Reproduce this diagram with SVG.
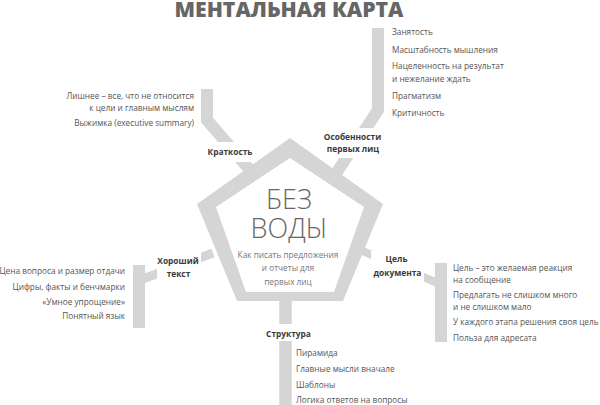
<svg xmlns="http://www.w3.org/2000/svg" width="600" height="405" viewBox="0 0 600 405">
<style>
.bar{fill:none;stroke:#d5d5d5;stroke-linejoin:miter;stroke-linecap:butt}
.item{font-family:"Open Sans","DejaVu Sans",sans-serif;font-size:9.5px;fill:#555}
.sub{font-family:"Open Sans","DejaVu Sans",sans-serif;font-size:9.5px;fill:#777;text-anchor:middle}
.lbl{font-family:"Open Sans","DejaVu Sans",sans-serif;font-size:9.5px;font-weight:700;fill:#3a3a3a;text-anchor:middle}
.ko{fill:#fff}
.r{text-anchor:end}
</style>
<rect width="600" height="405" fill="#fff"/>
<text x="289" y="16.5" text-anchor="middle" font-family="'Open Sans','DejaVu Sans',sans-serif" font-weight="800" font-size="21.2" fill="#666">МЕНТАЛЬНАЯ КАРТА</text>
<g id="connectors">
<polyline class="bar" stroke-width="12" points="207,89 207,120 256,177"/>
<polyline class="bar" stroke-width="12" points="378,28 378,110 333,178"/>
<line class="bar" stroke-width="9" x1="140" y1="280" x2="213" y2="253"/>
<rect x="133" y="265" width="12" height="63" fill="#d5d5d5"/>
<line class="bar" stroke-width="8" x1="360" y1="250" x2="440" y2="284"/>
<rect x="435" y="263" width="12" height="79" fill="#d5d5d5"/>
<line class="bar" stroke-width="12.5" x1="285.5" y1="295" x2="285.5" y2="405"/>
</g>
<g id="center">
<path fill="#d5d5d5" fill-rule="evenodd" d="M290,138 L383,204 L343,301 L237,301 L197,204 Z M290,158 L364,207 L334,292 L246,292 L216,207 Z"/>
<text x="289" y="209" text-anchor="middle" font-family="'Open Sans','DejaVu Sans',sans-serif" font-weight="300" font-size="27" fill="#666">БЕЗ</text>
<text x="289" y="238" text-anchor="middle" font-family="'Open Sans','DejaVu Sans',sans-serif" font-weight="300" font-size="27" fill="#666">ВОДЫ</text>
<g transform="translate(288 0) scale(0.87 1)">
<text class="sub" x="0" y="258">Как писать предложения</text>
<text class="sub" x="0" y="271.5">и отчеты для</text>
<text class="sub" x="0" y="285">первых лиц</text>
</g>
</g>
<g id="node-kratkost">
<rect class="ko" x="204" y="142" width="52" height="20"/>
<g transform="translate(230 0) scale(0.88 1)"><text class="lbl" x="0" y="155">Краткость</text></g>
<g transform="translate(194 0) scale(0.87 1)">
<text class="item r" x="0" y="99.5">Лишнее – все, что не относится</text>
<text class="item r" x="0" y="111.5">к цели и главным мыслям</text>
<text class="item r" x="0" y="126.5">Выжимка (executive summary)</text>
</g>
</g>
<g id="node-osobennosti">
<rect class="ko" x="320" y="128" width="66" height="30"/>
<g transform="translate(352.5 0) scale(0.88 1)">
<text class="lbl" x="0" y="140">Особенности</text>
<text class="lbl" x="0.5" y="152">первых лиц</text>
</g>
<g transform="translate(392 0) scale(0.87 1)">
<text class="item" x="0" y="35.5">Занятость</text>
<text class="item" x="0" y="53">Масштабность мышления</text>
<text class="item" x="0" y="69.5">Нацеленность на результат</text>
<text class="item" x="0" y="82">и нежелание ждать</text>
<text class="item" x="0" y="99.5">Прагматизм</text>
<text class="item" x="0" y="116.5">Критичность</text>
</g>
</g>
<g id="node-horoshiy">
<rect class="ko" x="157" y="252" width="44" height="29"/>
<g transform="translate(178 0) scale(0.88 1)">
<text class="lbl" x="0" y="264">Хороший</text>
<text class="lbl" x="0.5" y="277">текст</text>
</g>
<g transform="translate(125 0) scale(0.87 1)">
<text class="item r" x="0" y="274">Цена вопроса и размер отдачи</text>
<text class="item r" x="0" y="290">Цифры, факты и бенчмарки</text>
<text class="item r" x="0" y="305">«Умное упрощение»</text>
<text class="item r" x="0" y="319.5">Понятный язык</text>
</g>
</g>
<g id="node-cel">
<rect class="ko" x="371" y="251" width="53" height="30"/>
<g transform="translate(397 0) scale(0.88 1)">
<text class="lbl" x="-0.5" y="262.5">Цель</text>
<text class="lbl" x="0.5" y="276">документа</text>
</g>
<g transform="translate(453 0) scale(0.87 1)">
<text class="item" x="0" y="271.5">Цель – это желаемая реакция</text>
<text class="item" x="0" y="283.5">на сообщение</text>
<text class="item" x="0" y="298.5">Предлагать не слишком много</text>
<text class="item" x="0" y="310.5">и не слишком мало</text>
<text class="item" x="0" y="325">У каждого этапа решения своя цель</text>
<text class="item" x="0" y="341">Польза для адресата</text>
</g>
</g>
<g id="node-struktura">
<rect class="ko" x="262" y="324" width="53" height="17"/>
<g transform="translate(288.5 0) scale(0.88 1)"><text class="lbl" x="0" y="337">Структура</text></g>
<g transform="translate(296 0) scale(0.87 1)">
<text class="item" x="0" y="356">Пирамида</text>
<text class="item" x="0" y="372">Главные мысли вначале</text>
<text class="item" x="0" y="388">Шаблоны</text>
<text class="item" x="0" y="403.5">Логика ответов на вопросы</text>
</g>
</g>
</svg>
